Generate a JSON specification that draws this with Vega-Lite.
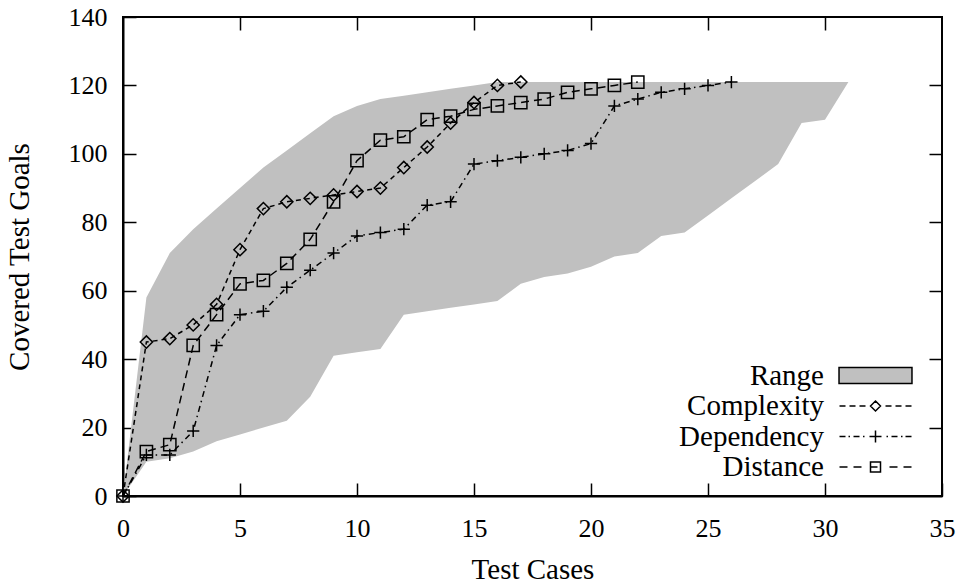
{
  "$schema": "https://vega.github.io/schema/vega-lite/v6.json",
  "width": 819,
  "height": 479,
  "autosize": "none",
  "padding": {"left": 123, "top": 17, "right": 15, "bottom": 92},
  "background": "white",
  "config": {
    "view": {"stroke": "black", "strokeWidth": 2},
    "font": "Liberation Serif",
    "axis": {
      "domainColor": "black", "domainWidth": 2,
      "tickColor": "black", "tickWidth": 1.5, "tickSize": -13,
      "grid": false,
      "labelFont": "Liberation Serif", "labelFontSize": 26, "labelColor": "black",
      "titleFont": "Liberation Serif", "titleFontSize": 29, "titleFontWeight": "normal", "titleColor": "black"
    },
    "legend": {
      "labelFont": "Liberation Serif", "labelFontSize": 29, "labelColor": "black"
    }
  },
  "datasets": {
    "range": [
      {"x": 0, "lo": 0, "hi": 0},
      {"x": 1, "lo": 10, "hi": 58},
      {"x": 2, "lo": 11, "hi": 71},
      {"x": 3, "lo": 13, "hi": 78},
      {"x": 4, "lo": 16, "hi": 84},
      {"x": 5, "lo": 18, "hi": 90},
      {"x": 6, "lo": 20, "hi": 96},
      {"x": 7, "lo": 22, "hi": 101},
      {"x": 8, "lo": 29, "hi": 106},
      {"x": 9, "lo": 41, "hi": 111},
      {"x": 10, "lo": 42, "hi": 114},
      {"x": 11, "lo": 43, "hi": 116},
      {"x": 12, "lo": 53, "hi": 117},
      {"x": 13, "lo": 54, "hi": 118},
      {"x": 14, "lo": 55, "hi": 119},
      {"x": 15, "lo": 56, "hi": 120},
      {"x": 16, "lo": 57, "hi": 121},
      {"x": 17, "lo": 62, "hi": 121},
      {"x": 18, "lo": 64, "hi": 121},
      {"x": 19, "lo": 65, "hi": 121},
      {"x": 20, "lo": 67, "hi": 121},
      {"x": 21, "lo": 70, "hi": 121},
      {"x": 22, "lo": 71, "hi": 121},
      {"x": 23, "lo": 76, "hi": 121},
      {"x": 24, "lo": 77, "hi": 121},
      {"x": 25, "lo": 82, "hi": 121},
      {"x": 26, "lo": 87, "hi": 121},
      {"x": 27, "lo": 92, "hi": 121},
      {"x": 28, "lo": 97, "hi": 121},
      {"x": 29, "lo": 109, "hi": 121},
      {"x": 30, "lo": 110, "hi": 121},
      {"x": 31, "lo": 121, "hi": 121}
    ],
    "series": [
      {"series": "Complexity", "x": 0, "y": 0},
      {"series": "Complexity", "x": 1, "y": 45},
      {"series": "Complexity", "x": 2, "y": 46},
      {"series": "Complexity", "x": 3, "y": 50},
      {"series": "Complexity", "x": 4, "y": 56},
      {"series": "Complexity", "x": 5, "y": 72},
      {"series": "Complexity", "x": 6, "y": 84},
      {"series": "Complexity", "x": 7, "y": 86},
      {"series": "Complexity", "x": 8, "y": 87},
      {"series": "Complexity", "x": 9, "y": 88},
      {"series": "Complexity", "x": 10, "y": 89},
      {"series": "Complexity", "x": 11, "y": 90},
      {"series": "Complexity", "x": 12, "y": 96},
      {"series": "Complexity", "x": 13, "y": 102},
      {"series": "Complexity", "x": 14, "y": 109},
      {"series": "Complexity", "x": 15, "y": 115},
      {"series": "Complexity", "x": 16, "y": 120},
      {"series": "Complexity", "x": 17, "y": 121},
      {"series": "Dependency", "x": 0, "y": 0},
      {"series": "Dependency", "x": 1, "y": 12},
      {"series": "Dependency", "x": 2, "y": 12},
      {"series": "Dependency", "x": 3, "y": 19},
      {"series": "Dependency", "x": 4, "y": 44},
      {"series": "Dependency", "x": 5, "y": 53},
      {"series": "Dependency", "x": 6, "y": 54},
      {"series": "Dependency", "x": 7, "y": 61},
      {"series": "Dependency", "x": 8, "y": 66},
      {"series": "Dependency", "x": 9, "y": 71},
      {"series": "Dependency", "x": 10, "y": 76},
      {"series": "Dependency", "x": 11, "y": 77},
      {"series": "Dependency", "x": 12, "y": 78},
      {"series": "Dependency", "x": 13, "y": 85},
      {"series": "Dependency", "x": 14, "y": 86},
      {"series": "Dependency", "x": 15, "y": 97},
      {"series": "Dependency", "x": 16, "y": 98},
      {"series": "Dependency", "x": 17, "y": 99},
      {"series": "Dependency", "x": 18, "y": 100},
      {"series": "Dependency", "x": 19, "y": 101},
      {"series": "Dependency", "x": 20, "y": 103},
      {"series": "Dependency", "x": 21, "y": 114},
      {"series": "Dependency", "x": 22, "y": 116},
      {"series": "Dependency", "x": 23, "y": 118},
      {"series": "Dependency", "x": 24, "y": 119},
      {"series": "Dependency", "x": 25, "y": 120},
      {"series": "Dependency", "x": 26, "y": 121},
      {"series": "Distance", "x": 0, "y": 0},
      {"series": "Distance", "x": 1, "y": 13},
      {"series": "Distance", "x": 2, "y": 15},
      {"series": "Distance", "x": 3, "y": 44},
      {"series": "Distance", "x": 4, "y": 53},
      {"series": "Distance", "x": 5, "y": 62},
      {"series": "Distance", "x": 6, "y": 63},
      {"series": "Distance", "x": 7, "y": 68},
      {"series": "Distance", "x": 8, "y": 75},
      {"series": "Distance", "x": 9, "y": 86},
      {"series": "Distance", "x": 10, "y": 98},
      {"series": "Distance", "x": 11, "y": 104},
      {"series": "Distance", "x": 12, "y": 105},
      {"series": "Distance", "x": 13, "y": 110},
      {"series": "Distance", "x": 14, "y": 111},
      {"series": "Distance", "x": 15, "y": 113},
      {"series": "Distance", "x": 16, "y": 114},
      {"series": "Distance", "x": 17, "y": 115},
      {"series": "Distance", "x": 18, "y": 116},
      {"series": "Distance", "x": 19, "y": 118},
      {"series": "Distance", "x": 20, "y": 119},
      {"series": "Distance", "x": 21, "y": 120},
      {"series": "Distance", "x": 22, "y": 121}
    ]
  },
  "layer": [
    {
      "data": {"name": "range"},
      "mark": {"type": "area", "color": "#c0c0c0", "opacity": 1},
      "encoding": {
        "x": {
          "field": "x", "type": "quantitative",
          "scale": {"domain": [0, 35], "nice": false, "zero": false},
          "axis": {"orient": "bottom", "values": [0, 5, 10, 15, 20, 25, 30, 35], "title": "Test Cases", "labelPadding": 32, "titlePadding": 14, "labelFlush": false}
        },
        "y": {
          "field": "hi", "type": "quantitative",
          "scale": {"domain": [0, 140], "nice": false},
          "axis": {"orient": "left", "values": [0, 20, 40, 60, 80, 100, 120, 140], "title": "Covered Test Goals", "labelPadding": 29, "titlePadding": 34, "labelFlush": false}
        },
        "y2": {"field": "lo"}
      }
    },
    {
      "data": {"name": "series"},
      "mark": {"type": "line", "color": "black", "strokeWidth": 1.5},
      "encoding": {
        "x": {"field": "x", "type": "quantitative", "axis": {"orient": "top", "labels": false, "title": null, "domain": false, "values": [5, 10, 15, 20, 25, 30]}},
        "y": {"field": "y", "type": "quantitative", "axis": {"orient": "right", "labels": false, "title": null, "domain": false, "values": [20, 40, 60, 80, 100, 120]}},
        "strokeDash": {
          "field": "series", "type": "nominal",
          "scale": {"domain": ["Complexity", "Dependency", "Distance"], "range": [[5, 4], [6, 4, 1.5, 4], [8, 5]]},
          "legend": null
        }
      }
    },
    {
      "data": {"name": "series"},
      "mark": {"type": "point", "filled": false, "color": "black", "strokeWidth": 1.5, "opacity": 1, "size": 150},
      "encoding": {
        "x": {"field": "x", "type": "quantitative", "axis": null},
        "y": {"field": "y", "type": "quantitative", "axis": null},
        "shape": {
          "field": "series", "type": "nominal",
          "scale": {"domain": ["Complexity", "Dependency", "Distance"], "range": ["diamond", "M-1,0H1M0,-1V1", "square"]},
          "legend": null
        }
      }
    },
    {
      "data": {"name": "series"},
      "transform": [{"filter": "false"}],
      "mark": {"type": "point", "filled": true, "strokeWidth": 1.5, "opacity": 1, "size": 256},
      "encoding": {
        "x": {"field": "x", "type": "quantitative", "axis": null},
        "y": {"field": "y", "type": "quantitative", "axis": null},
        "shape": {
          "field": "series", "type": "nominal",
          "scale": {
            "domain": ["Range", "Complexity", "Dependency", "Distance"],
            "range": [
              "M-4.56,-1H4.56V1H-4.56Z",
              "M-4.5,0H-3.75M-3.25,0H-2.5M-2,0H-1.25M0,-0.625L0.625,0L0,0.625L-0.625,0ZM1.25,0H2M2.5,0H3.25M3.75,0H4.5",
              "M-4.5,0H-3.75M-3.375,0H-3.19M-2.75,0H-2M-1.56,0H-1.375M-0.75,0H0.75M0,-0.75V0.75M1.375,0H1.56M2,0H2.75M3.19,0H3.375M3.75,0H4.5",
              "M-4.5,0H-3.5M-2.75,0H-1.75M-0.625,-0.625H0.625V0.625H-0.625ZM-0.625,0H0.25M1.75,0H2.75M3.5,0H4.5"
            ]
          },
          "legend": {
            "title": null, "orient": "none", "legendX": 738, "legendY": 344,
            "labelAlign": "right", "labelOffset": -66,
            "symbolSize": 256, "symbolStrokeWidth": 1.5,
            "rowPadding": 0.5
          }
        },
        "fill": {
          "field": "series", "type": "nominal",
          "scale": {"domain": ["Range", "Complexity", "Dependency", "Distance"], "range": ["#c0c0c0", "transparent", "transparent", "transparent"]},
          "legend": {
            "title": null, "orient": "none", "legendX": 738, "legendY": 344,
            "labelAlign": "right", "labelOffset": -66,
            "symbolSize": 256, "symbolStrokeWidth": 1.5,
            "rowPadding": 0.5
          }
        },
        "stroke": {
          "field": "series", "type": "nominal",
          "scale": {"domain": ["Range", "Complexity", "Dependency", "Distance"], "range": ["black", "black", "black", "black"]},
          "legend": {
            "title": null, "orient": "none", "legendX": 738, "legendY": 344,
            "labelAlign": "right", "labelOffset": -66,
            "symbolSize": 256, "symbolStrokeWidth": 1.5,
            "rowPadding": 0.5
          }
        }
      }
    }
  ],
  "resolve": {
    "axis": {"x": "independent", "y": "independent"},
    "scale": {"shape": "independent", "fill": "independent", "stroke": "independent"}
  }
}
